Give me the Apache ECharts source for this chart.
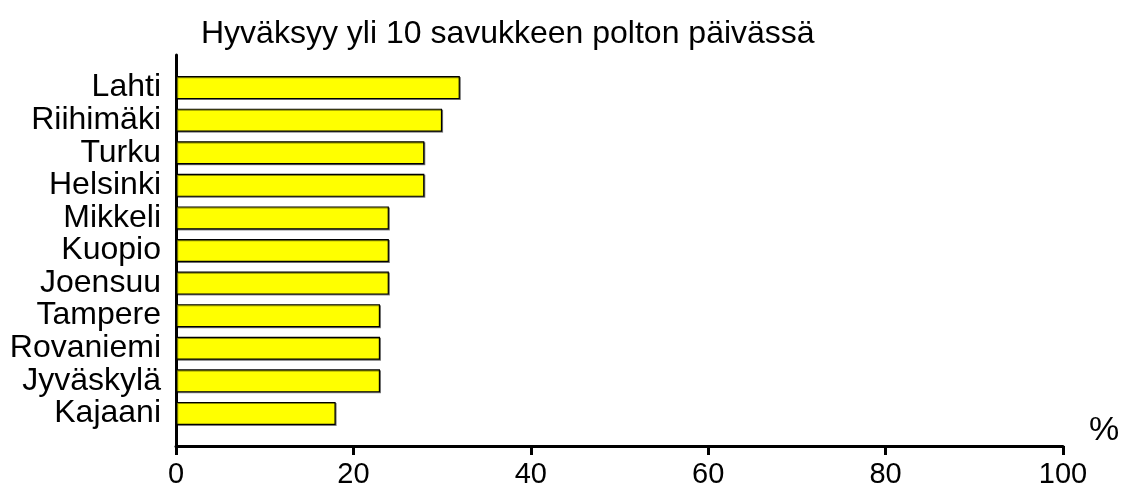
<!DOCTYPE html>
<html>
<head>
<meta charset="utf-8">
<script src="https://cdn.jsdelivr.net/npm/echarts@6/dist/echarts.min.js"></script>
<style>
  html, body { margin: 0; padding: 0; background: #fff; }
  #chart { width: 1122px; height: 496px; }
</style>
</head>
<body>
<div id="chart"></div>
<script>
// Cities, listed bottom to top as drawn on the category axis
const cities = ['Kajaani', 'Jyväskylä', 'Rovaniemi', 'Tampere', 'Joensuu', 'Kuopio',
                'Mikkeli', 'Helsinki', 'Turku', 'Riihimäki', 'Lahti'];
// Share (%) accepting smoking more than 10 cigarettes a day
const shares = [18, 23, 23, 23, 24, 24, 24, 28, 28, 30, 32];
const xTicks = [0, 20, 40, 60, 80, 100];
const titleText = 'Hyväksyy yli 10 savukkeen polton päivässä';
const unitText = '%';

// Empty slots at both ends leave a gap between the bars and the axis ends
const axisCats = [''].concat(cities, ['']);
const barData = [null].concat(shares, [null]);

const font = 'Liberation Sans, Arial, sans-serif';
const chart = echarts.init(document.getElementById('chart'), null, { renderer: 'canvas' });

chart.setOption({
  animation: false,
  backgroundColor: '#fff',
  title: {
    text: titleText,
    left: 196,
    top: 13,
    textStyle: { fontFamily: font, fontSize: 32, fontWeight: 'normal', color: '#000' }
  },
  graphic: [{
    type: 'text',
    left: 1089,
    top: 414,
    style: { text: unitText, font: '34px ' + font, fill: '#000' }
  }],
  grid: { left: 176, right: 59, top: 55, bottom: 50, containLabel: false },
  xAxis: {
    type: 'value',
    min: 0,
    max: 100,
    interval: 20,
    axisLine: { show: true, lineStyle: { color: '#000', width: 3 } },
    axisTick: { show: true, length: 9, lineStyle: { color: '#000', width: 3 } },
    splitLine: { show: false },
    axisLabel: {
      margin: 14,
      fontFamily: font, fontSize: 29, color: '#000',
      formatter: v => (xTicks.indexOf(v) >= 0 ? String(v) : '')
    }
  },
  yAxis: {
    type: 'category',
    data: axisCats,
    boundaryGap: false,
    axisLine: { show: true, lineStyle: { color: '#000', width: 3 } },
    axisTick: { show: false },
    splitLine: { show: false },
    axisLabel: { margin: 15, fontFamily: font, fontSize: 32, color: '#000', interval: 0 }
  },
  series: [{
    type: 'bar',
    data: barData,
    barWidth: 23,
    itemStyle: {
      color: '#ffff00',
      borderColor: '#000',
      borderWidth: 1.2,
      shadowColor: 'rgba(0,0,0,0.45)',
      shadowOffsetX: 1,
      shadowOffsetY: 1,
      shadowBlur: 0
    },
    z: 1
  }]
});
</script>
</body>
</html>
